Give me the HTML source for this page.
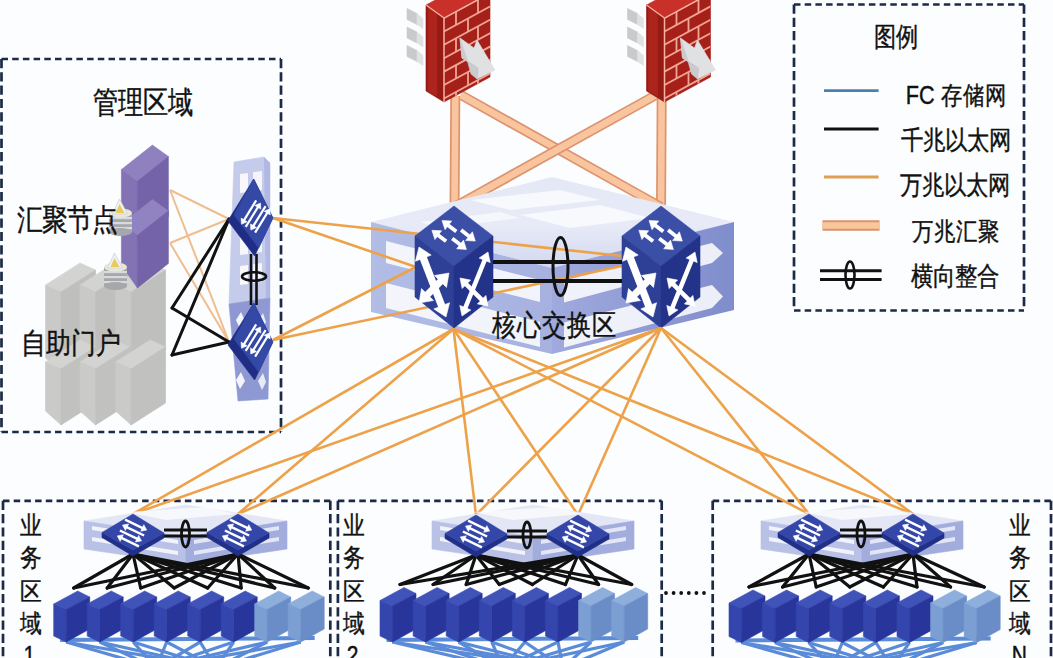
<!DOCTYPE html>
<html><head><meta charset="utf-8"><style>
html,body{margin:0;padding:0;background:#fcfdfe;}
#c{position:relative;width:1053px;height:658px;overflow:hidden;background:#fcfdfe;font-family:'Liberation Sans',sans-serif}
svg{position:absolute;left:0;top:0}
.t{position:absolute;white-space:nowrap;color:#111;line-height:1;transform-origin:0 0;-webkit-text-stroke:0.35px #111}
</style></head><body><div id="c">
<svg width="1053" height="658" viewBox="0 0 1053 658"><line x1="1.5" y1="59.0" x2="281.0" y2="59.0" stroke="#1b2a48" stroke-width="2.70" stroke-dasharray="6.5 4.2"/><line x1="1.5" y1="432.0" x2="281.0" y2="432.0" stroke="#1b2a48" stroke-width="2.70" stroke-dasharray="6.5 4.2"/><line x1="1.5" y1="59.0" x2="1.5" y2="432.0" stroke="#1b2a48" stroke-width="2.70" stroke-dasharray="9.2 4.1"/><line x1="281.0" y1="59.0" x2="281.0" y2="432.0" stroke="#1b2a48" stroke-width="2.70" stroke-dasharray="9.2 4.1"/><line x1="794.0" y1="4.5" x2="1024.0" y2="4.5" stroke="#1b2a48" stroke-width="2.70" stroke-dasharray="6.5 4.2"/><line x1="794.0" y1="310.5" x2="1024.0" y2="310.5" stroke="#1b2a48" stroke-width="2.70" stroke-dasharray="6.5 4.2"/><line x1="794.0" y1="4.5" x2="794.0" y2="310.5" stroke="#1b2a48" stroke-width="2.70" stroke-dasharray="9.2 4.1"/><line x1="1024.0" y1="4.5" x2="1024.0" y2="310.5" stroke="#1b2a48" stroke-width="2.70" stroke-dasharray="9.2 4.1"/><line x1="3.0" y1="500.8" x2="330.3" y2="500.8" stroke="#1b2a48" stroke-width="2.70" stroke-dasharray="6.5 4.2"/><line x1="3.0" y1="500.8" x2="3.0" y2="700.0" stroke="#1b2a48" stroke-width="2.70" stroke-dasharray="9.2 4.1"/><line x1="330.3" y1="500.8" x2="330.3" y2="700.0" stroke="#1b2a48" stroke-width="2.70" stroke-dasharray="9.2 4.1"/><line x1="337.9" y1="500.8" x2="661.7" y2="500.8" stroke="#1b2a48" stroke-width="2.70" stroke-dasharray="6.5 4.2"/><line x1="337.9" y1="500.8" x2="337.9" y2="700.0" stroke="#1b2a48" stroke-width="2.70" stroke-dasharray="9.2 4.1"/><line x1="661.7" y1="500.8" x2="661.7" y2="700.0" stroke="#1b2a48" stroke-width="2.70" stroke-dasharray="9.2 4.1"/><line x1="712.7" y1="500.8" x2="1051.0" y2="500.8" stroke="#1b2a48" stroke-width="2.70" stroke-dasharray="6.5 4.2"/><line x1="712.7" y1="500.8" x2="712.7" y2="700.0" stroke="#1b2a48" stroke-width="2.70" stroke-dasharray="9.2 4.1"/><line x1="1051.0" y1="500.8" x2="1051.0" y2="700.0" stroke="#1b2a48" stroke-width="2.70" stroke-dasharray="9.2 4.1"/><line x1="455.3" y1="96.0" x2="454.5" y2="210.0" stroke="#dc936e" stroke-width="10.00" /><line x1="455.3" y1="96.0" x2="454.5" y2="210.0" stroke="#f9c59e" stroke-width="6.60" /><line x1="661.7" y1="96.0" x2="661.0" y2="210.0" stroke="#dc936e" stroke-width="10.00" /><line x1="661.7" y1="96.0" x2="661.0" y2="210.0" stroke="#f9c59e" stroke-width="6.60" /><line x1="461.0" y1="95.0" x2="661.0" y2="207.0" stroke="#dc936e" stroke-width="10.00" /><line x1="461.0" y1="95.0" x2="661.0" y2="207.0" stroke="#f9c59e" stroke-width="6.60" /><line x1="656.0" y1="95.0" x2="454.0" y2="207.0" stroke="#dc936e" stroke-width="10.00" /><line x1="656.0" y1="95.0" x2="454.0" y2="207.0" stroke="#f9c59e" stroke-width="6.60" /><g transform="translate(0.0,0)"><polygon points="407.0,8.5 417.0,13.5 417.0,24.5 407.0,19.5" fill="#c9cacc"  stroke="#c9cacc" stroke-width="0.6" stroke-linejoin="round"/><polygon points="417.0,13.5 423.0,18.5 423.0,28.5 417.0,24.5" fill="#dfe1e2"  stroke="#dfe1e2" stroke-width="0.6" stroke-linejoin="round"/><polygon points="407.0,27.0 417.0,32.0 417.0,43.0 407.0,38.0" fill="#c9cacc"  stroke="#c9cacc" stroke-width="0.6" stroke-linejoin="round"/><polygon points="417.0,32.0 423.0,37.0 423.0,47.0 417.0,43.0" fill="#dfe1e2"  stroke="#dfe1e2" stroke-width="0.6" stroke-linejoin="round"/><polygon points="407.0,45.5 417.0,50.5 417.0,61.5 407.0,56.5" fill="#c9cacc"  stroke="#c9cacc" stroke-width="0.6" stroke-linejoin="round"/><polygon points="417.0,50.5 423.0,55.5 423.0,65.5 417.0,61.5" fill="#dfe1e2"  stroke="#dfe1e2" stroke-width="0.6" stroke-linejoin="round"/><polygon points="426.0,5.0 444.0,18.0 492.0,-8.0 474.0,-21.0" fill="#c9302a"  stroke="#c9302a" stroke-width="0.6" stroke-linejoin="round"/><polygon points="426.0,5.0 444.0,18.0 444.0,102.0 426.0,91.0" fill="#951a14"  stroke="#951a14" stroke-width="0.6" stroke-linejoin="round"/><polygon points="428.0,7.0 437.0,13.0 437.0,96.0 428.0,91.0" fill="#ad241d"  stroke="#ad241d" stroke-width="0.6" stroke-linejoin="round"/><clipPath id="ff0"><polygon points="444,18 490,-7 490,77 444,102"/></clipPath><polygon points="444.0,18.0 490.0,-7.0 490.0,77.0 444.0,102.0" fill="#a6201a"  stroke="#a6201a" stroke-width="0.6" stroke-linejoin="round"/><g clip-path="url(#ff0)"><line x1="440.0" y1="20.2" x2="495.0" y2="-9.7" stroke="#f3a595" stroke-width="1.80" /><line x1="440.0" y1="33.6" x2="495.0" y2="3.7" stroke="#f3a595" stroke-width="1.80" /><line x1="440.0" y1="47.0" x2="495.0" y2="17.1" stroke="#f3a595" stroke-width="1.80" /><line x1="440.0" y1="60.4" x2="495.0" y2="30.5" stroke="#f3a595" stroke-width="1.80" /><line x1="440.0" y1="73.8" x2="495.0" y2="43.9" stroke="#f3a595" stroke-width="1.80" /><line x1="440.0" y1="87.2" x2="495.0" y2="57.3" stroke="#f3a595" stroke-width="1.80" /><line x1="440.0" y1="100.6" x2="495.0" y2="70.7" stroke="#f3a595" stroke-width="1.80" /><line x1="440.0" y1="114.0" x2="495.0" y2="84.1" stroke="#f3a595" stroke-width="1.80" /><line x1="456.0" y1="11.5" x2="456.0" y2="24.9" stroke="#f3a595" stroke-width="1.80" /><line x1="478.0" y1="-0.5" x2="478.0" y2="12.9" stroke="#f3a595" stroke-width="1.80" /><line x1="468.0" y1="18.4" x2="468.0" y2="31.8" stroke="#f3a595" stroke-width="1.80" /><line x1="456.0" y1="38.3" x2="456.0" y2="51.7" stroke="#f3a595" stroke-width="1.80" /><line x1="478.0" y1="26.3" x2="478.0" y2="39.7" stroke="#f3a595" stroke-width="1.80" /><line x1="468.0" y1="45.2" x2="468.0" y2="58.6" stroke="#f3a595" stroke-width="1.80" /><line x1="456.0" y1="65.1" x2="456.0" y2="78.5" stroke="#f3a595" stroke-width="1.80" /><line x1="478.0" y1="53.1" x2="478.0" y2="66.5" stroke="#f3a595" stroke-width="1.80" /><line x1="468.0" y1="72.0" x2="468.0" y2="85.4" stroke="#f3a595" stroke-width="1.80" /><line x1="456.0" y1="91.9" x2="456.0" y2="105.3" stroke="#f3a595" stroke-width="1.80" /><line x1="478.0" y1="79.9" x2="478.0" y2="93.3" stroke="#f3a595" stroke-width="1.80" /></g><line x1="444.0" y1="18.0" x2="444.0" y2="102.0" stroke="#f7b2a3" stroke-width="1.50" /><line x1="426.0" y1="5.0" x2="444.0" y2="18.0" stroke="#f7b2a3" stroke-width="1.30" /><line x1="444.0" y1="18.0" x2="492.0" y2="-8.0" stroke="#f7b2a3" stroke-width="1.30" /><polygon points="460.0,38.0 474.0,48.0 477.0,40.0 495.0,70.0 477.0,79.0 478.0,68.0 462.0,58.0" fill="#dfe1e3"  stroke="#dfe1e3" stroke-width="0.6" stroke-linejoin="round"/><polygon points="460.0,38.0 462.0,58.0 478.0,68.0 477.0,79.0 471.0,74.0 466.0,56.0" fill="#c9cbce"  stroke="#c9cbce" stroke-width="0.6" stroke-linejoin="round"/></g><g transform="translate(220.5,0)"><polygon points="407.0,8.5 417.0,13.5 417.0,24.5 407.0,19.5" fill="#c9cacc"  stroke="#c9cacc" stroke-width="0.6" stroke-linejoin="round"/><polygon points="417.0,13.5 423.0,18.5 423.0,28.5 417.0,24.5" fill="#dfe1e2"  stroke="#dfe1e2" stroke-width="0.6" stroke-linejoin="round"/><polygon points="407.0,27.0 417.0,32.0 417.0,43.0 407.0,38.0" fill="#c9cacc"  stroke="#c9cacc" stroke-width="0.6" stroke-linejoin="round"/><polygon points="417.0,32.0 423.0,37.0 423.0,47.0 417.0,43.0" fill="#dfe1e2"  stroke="#dfe1e2" stroke-width="0.6" stroke-linejoin="round"/><polygon points="407.0,45.5 417.0,50.5 417.0,61.5 407.0,56.5" fill="#c9cacc"  stroke="#c9cacc" stroke-width="0.6" stroke-linejoin="round"/><polygon points="417.0,50.5 423.0,55.5 423.0,65.5 417.0,61.5" fill="#dfe1e2"  stroke="#dfe1e2" stroke-width="0.6" stroke-linejoin="round"/><polygon points="426.0,5.0 444.0,18.0 492.0,-8.0 474.0,-21.0" fill="#c9302a"  stroke="#c9302a" stroke-width="0.6" stroke-linejoin="round"/><polygon points="426.0,5.0 444.0,18.0 444.0,102.0 426.0,91.0" fill="#951a14"  stroke="#951a14" stroke-width="0.6" stroke-linejoin="round"/><polygon points="428.0,7.0 437.0,13.0 437.0,96.0 428.0,91.0" fill="#ad241d"  stroke="#ad241d" stroke-width="0.6" stroke-linejoin="round"/><clipPath id="ff220"><polygon points="444,18 490,-7 490,77 444,102"/></clipPath><polygon points="444.0,18.0 490.0,-7.0 490.0,77.0 444.0,102.0" fill="#a6201a"  stroke="#a6201a" stroke-width="0.6" stroke-linejoin="round"/><g clip-path="url(#ff220)"><line x1="440.0" y1="20.2" x2="495.0" y2="-9.7" stroke="#f3a595" stroke-width="1.80" /><line x1="440.0" y1="33.6" x2="495.0" y2="3.7" stroke="#f3a595" stroke-width="1.80" /><line x1="440.0" y1="47.0" x2="495.0" y2="17.1" stroke="#f3a595" stroke-width="1.80" /><line x1="440.0" y1="60.4" x2="495.0" y2="30.5" stroke="#f3a595" stroke-width="1.80" /><line x1="440.0" y1="73.8" x2="495.0" y2="43.9" stroke="#f3a595" stroke-width="1.80" /><line x1="440.0" y1="87.2" x2="495.0" y2="57.3" stroke="#f3a595" stroke-width="1.80" /><line x1="440.0" y1="100.6" x2="495.0" y2="70.7" stroke="#f3a595" stroke-width="1.80" /><line x1="440.0" y1="114.0" x2="495.0" y2="84.1" stroke="#f3a595" stroke-width="1.80" /><line x1="456.0" y1="11.5" x2="456.0" y2="24.9" stroke="#f3a595" stroke-width="1.80" /><line x1="478.0" y1="-0.5" x2="478.0" y2="12.9" stroke="#f3a595" stroke-width="1.80" /><line x1="468.0" y1="18.4" x2="468.0" y2="31.8" stroke="#f3a595" stroke-width="1.80" /><line x1="456.0" y1="38.3" x2="456.0" y2="51.7" stroke="#f3a595" stroke-width="1.80" /><line x1="478.0" y1="26.3" x2="478.0" y2="39.7" stroke="#f3a595" stroke-width="1.80" /><line x1="468.0" y1="45.2" x2="468.0" y2="58.6" stroke="#f3a595" stroke-width="1.80" /><line x1="456.0" y1="65.1" x2="456.0" y2="78.5" stroke="#f3a595" stroke-width="1.80" /><line x1="478.0" y1="53.1" x2="478.0" y2="66.5" stroke="#f3a595" stroke-width="1.80" /><line x1="468.0" y1="72.0" x2="468.0" y2="85.4" stroke="#f3a595" stroke-width="1.80" /><line x1="456.0" y1="91.9" x2="456.0" y2="105.3" stroke="#f3a595" stroke-width="1.80" /><line x1="478.0" y1="79.9" x2="478.0" y2="93.3" stroke="#f3a595" stroke-width="1.80" /></g><line x1="444.0" y1="18.0" x2="444.0" y2="102.0" stroke="#f7b2a3" stroke-width="1.50" /><line x1="426.0" y1="5.0" x2="444.0" y2="18.0" stroke="#f7b2a3" stroke-width="1.30" /><line x1="444.0" y1="18.0" x2="492.0" y2="-8.0" stroke="#f7b2a3" stroke-width="1.30" /><polygon points="460.0,38.0 474.0,48.0 477.0,40.0 495.0,70.0 477.0,79.0 478.0,68.0 462.0,58.0" fill="#dfe1e3"  stroke="#dfe1e3" stroke-width="0.6" stroke-linejoin="round"/><polygon points="460.0,38.0 462.0,58.0 478.0,68.0 477.0,79.0 471.0,74.0 466.0,56.0" fill="#c9cbce"  stroke="#c9cbce" stroke-width="0.6" stroke-linejoin="round"/></g><defs><linearGradient id="ptop" x1="0" y1="0" x2="0" y2="1"><stop offset="0" stop-color="#e4e7f5"/><stop offset="0.5" stop-color="#e8ebf7"/><stop offset="1" stop-color="#d3d8f0"/></linearGradient><linearGradient id="pleft" x1="0" y1="0" x2="1" y2="0"><stop offset="0" stop-color="#b2bde6"/><stop offset="1" stop-color="#a6b1e0"/></linearGradient><linearGradient id="pright" x1="0" y1="0" x2="1" y2="0"><stop offset="0" stop-color="#a0aade"/><stop offset="1" stop-color="#808dcc"/></linearGradient></defs><polygon points="371.0,222.0 552.0,177.0 734.0,222.0 552.0,268.0" fill="url(#ptop)" /><polygon points="371.0,222.0 552.0,268.0 552.0,354.0 371.0,312.0" fill="url(#pleft)" /><polygon points="552.0,268.0 734.0,222.0 734.0,310.0 552.0,354.0" fill="url(#pright)" /><polygon points="386.0,241.0 540.0,280.1 540.0,302.1 386.0,263.0" fill="#ffffff" opacity="0.85"/><polygon points="564.0,280.6 712.0,243.0 723.0,253.0 712.0,263.0 564.0,302.6" fill="#ffffff" opacity="0.85"/><polygon points="386.0,283.0 540.0,322.1 540.0,347.1 386.0,308.0" fill="#ffffff" opacity="0.85"/><polygon points="564.0,322.6 712.0,285.0 723.0,296.5 712.0,308.0 564.0,347.6" fill="#ffffff" opacity="0.85"/><polygon points="470.0,200.0 560.0,190.0 600.0,200.0 510.0,210.0" fill="#ffffff" opacity="0.7"/><polygon points="520.0,215.0 600.0,205.0 650.0,218.0 570.0,228.0" fill="#ffffff" opacity="0.7"/><polygon points="420.0,222.0 500.0,212.0 520.0,218.0 440.0,228.0" fill="#ffffff" opacity="0.6"/><line x1="273.0" y1="218.0" x2="416.0" y2="267.0" stroke="#eda24a" stroke-width="2.60" /><line x1="273.0" y1="218.0" x2="622.0" y2="256.0" stroke="#eda24a" stroke-width="2.60" /><line x1="273.0" y1="340.0" x2="416.0" y2="267.0" stroke="#eda24a" stroke-width="2.60" /><line x1="273.0" y1="340.0" x2="622.0" y2="266.0" stroke="#eda24a" stroke-width="2.60" /><polygon points="454.0,206.0 493.0,236.0 454.0,266.0 415.0,236.0" fill="#3b4fa7"  stroke="#3b4fa7" stroke-width="0.6" stroke-linejoin="round"/><polygon points="415.0,236.0 454.0,266.0 454.0,328.0 415.0,297.0" fill="#2e4096"  stroke="#2e4096" stroke-width="0.6" stroke-linejoin="round"/><polygon points="454.0,266.0 493.0,236.0 493.0,297.0 454.0,328.0" fill="#24338a"  stroke="#24338a" stroke-width="0.6" stroke-linejoin="round"/><line x1="436.9" y1="234.2" x2="446.1" y2="241.3" stroke="#fff" stroke-width="3.80" /><polygon points="431.9,230.3 434.9,239.6 441.6,230.8" fill="#fff"  stroke="#fff" stroke-width="0.6" stroke-linejoin="round"/><line x1="447.1" y1="224.4" x2="456.3" y2="231.4" stroke="#fff" stroke-width="3.80" /><polygon points="442.0,220.5 445.0,229.7 451.7,221.0" fill="#fff"  stroke="#fff" stroke-width="0.6" stroke-linejoin="round"/><line x1="452.2" y1="238.4" x2="461.4" y2="245.5" stroke="#fff" stroke-width="3.80" /><polygon points="466.4,249.4 456.7,248.8 463.5,240.1" fill="#fff"  stroke="#fff" stroke-width="0.6" stroke-linejoin="round"/><line x1="461.1" y1="230.1" x2="470.3" y2="237.2" stroke="#fff" stroke-width="3.80" /><polygon points="475.3,241.1 465.6,240.5 472.4,231.8" fill="#fff"  stroke="#fff" stroke-width="0.6" stroke-linejoin="round"/><line x1="422.5" y1="256.0" x2="442.5" y2="308.0" stroke="#fff" stroke-width="7.50" /><polygon points="446.0,317.0 433.8,308.9 449.6,302.7" fill="#fff"  stroke="#fff" stroke-width="0.6" stroke-linejoin="round"/><polygon points="419.0,247.0 415.4,261.3 431.2,255.1" fill="#fff"  stroke="#fff" stroke-width="0.6" stroke-linejoin="round"/><line x1="442.2" y1="279.8" x2="425.8" y2="296.2" stroke="#fff" stroke-width="7.00" /><polygon points="419.0,303.0 421.5,288.5 433.5,300.5" fill="#fff"  stroke="#fff" stroke-width="0.6" stroke-linejoin="round"/><polygon points="449.0,273.0 434.5,275.5 446.5,287.5" fill="#fff"  stroke="#fff" stroke-width="0.6" stroke-linejoin="round"/><line x1="465.1" y1="283.1" x2="482.9" y2="300.9" stroke="#fff" stroke-width="4.50" /><polygon points="488.0,306.0 477.4,303.9 485.9,295.4" fill="#fff"  stroke="#fff" stroke-width="0.6" stroke-linejoin="round"/><polygon points="460.0,278.0 462.1,288.6 470.6,280.1" fill="#fff"  stroke="#fff" stroke-width="0.6" stroke-linejoin="round"/><line x1="485.3" y1="258.7" x2="464.7" y2="309.3" stroke="#fff" stroke-width="4.50" /><polygon points="462.0,316.0 459.8,305.4 470.9,309.9" fill="#fff"  stroke="#fff" stroke-width="0.6" stroke-linejoin="round"/><polygon points="488.0,252.0 479.1,258.1 490.2,262.6" fill="#fff"  stroke="#fff" stroke-width="0.6" stroke-linejoin="round"/><polygon points="661.0,206.0 700.0,236.0 661.0,266.0 622.0,236.0" fill="#3b4fa7"  stroke="#3b4fa7" stroke-width="0.6" stroke-linejoin="round"/><polygon points="622.0,236.0 661.0,266.0 661.0,328.0 622.0,297.0" fill="#2e4096"  stroke="#2e4096" stroke-width="0.6" stroke-linejoin="round"/><polygon points="661.0,266.0 700.0,236.0 700.0,297.0 661.0,328.0" fill="#24338a"  stroke="#24338a" stroke-width="0.6" stroke-linejoin="round"/><line x1="643.9" y1="234.2" x2="653.1" y2="241.3" stroke="#fff" stroke-width="3.80" /><polygon points="638.9,230.3 641.9,239.6 648.6,230.8" fill="#fff"  stroke="#fff" stroke-width="0.6" stroke-linejoin="round"/><line x1="654.1" y1="224.4" x2="663.3" y2="231.4" stroke="#fff" stroke-width="3.80" /><polygon points="649.0,220.5 652.0,229.7 658.7,221.0" fill="#fff"  stroke="#fff" stroke-width="0.6" stroke-linejoin="round"/><line x1="659.2" y1="238.4" x2="668.4" y2="245.5" stroke="#fff" stroke-width="3.80" /><polygon points="673.4,249.4 663.7,248.8 670.5,240.1" fill="#fff"  stroke="#fff" stroke-width="0.6" stroke-linejoin="round"/><line x1="668.1" y1="230.1" x2="677.3" y2="237.2" stroke="#fff" stroke-width="3.80" /><polygon points="682.3,241.1 672.6,240.5 679.4,231.8" fill="#fff"  stroke="#fff" stroke-width="0.6" stroke-linejoin="round"/><line x1="629.5" y1="256.0" x2="649.5" y2="308.0" stroke="#fff" stroke-width="7.50" /><polygon points="653.0,317.0 640.8,308.9 656.6,302.7" fill="#fff"  stroke="#fff" stroke-width="0.6" stroke-linejoin="round"/><polygon points="626.0,247.0 622.4,261.3 638.2,255.1" fill="#fff"  stroke="#fff" stroke-width="0.6" stroke-linejoin="round"/><line x1="649.2" y1="279.8" x2="632.8" y2="296.2" stroke="#fff" stroke-width="7.00" /><polygon points="626.0,303.0 628.5,288.5 640.5,300.5" fill="#fff"  stroke="#fff" stroke-width="0.6" stroke-linejoin="round"/><polygon points="656.0,273.0 641.5,275.5 653.5,287.5" fill="#fff"  stroke="#fff" stroke-width="0.6" stroke-linejoin="round"/><line x1="672.1" y1="283.1" x2="689.9" y2="300.9" stroke="#fff" stroke-width="4.50" /><polygon points="695.0,306.0 684.4,303.9 692.9,295.4" fill="#fff"  stroke="#fff" stroke-width="0.6" stroke-linejoin="round"/><polygon points="667.0,278.0 669.1,288.6 677.6,280.1" fill="#fff"  stroke="#fff" stroke-width="0.6" stroke-linejoin="round"/><line x1="692.3" y1="258.7" x2="671.7" y2="309.3" stroke="#fff" stroke-width="4.50" /><polygon points="669.0,316.0 666.8,305.4 677.9,309.9" fill="#fff"  stroke="#fff" stroke-width="0.6" stroke-linejoin="round"/><polygon points="695.0,252.0 686.1,258.1 697.2,262.6" fill="#fff"  stroke="#fff" stroke-width="0.6" stroke-linejoin="round"/><line x1="493.0" y1="262.0" x2="622.0" y2="262.0" stroke="#111" stroke-width="4.20" /><line x1="493.0" y1="281.0" x2="622.0" y2="281.0" stroke="#111" stroke-width="4.20" /><ellipse cx="560.5" cy="266.5" rx="7.5" ry="29" fill="none" stroke="#111" stroke-width="3"/><line x1="453.5" y1="329.0" x2="133.0" y2="514.0" stroke="#eda24a" stroke-width="2.60" /><line x1="453.5" y1="329.0" x2="238.0" y2="514.0" stroke="#eda24a" stroke-width="2.60" /><line x1="453.5" y1="329.0" x2="476.0" y2="515.0" stroke="#eda24a" stroke-width="2.60" /><line x1="453.5" y1="329.0" x2="578.0" y2="515.0" stroke="#eda24a" stroke-width="2.60" /><line x1="453.5" y1="329.0" x2="809.0" y2="514.0" stroke="#eda24a" stroke-width="2.60" /><line x1="453.5" y1="329.0" x2="913.0" y2="514.0" stroke="#eda24a" stroke-width="2.60" /><line x1="661.0" y1="328.0" x2="133.0" y2="514.0" stroke="#eda24a" stroke-width="2.60" /><line x1="661.0" y1="328.0" x2="238.0" y2="514.0" stroke="#eda24a" stroke-width="2.60" /><line x1="661.0" y1="328.0" x2="476.0" y2="515.0" stroke="#eda24a" stroke-width="2.60" /><line x1="661.0" y1="328.0" x2="578.0" y2="515.0" stroke="#eda24a" stroke-width="2.60" /><line x1="661.0" y1="328.0" x2="809.0" y2="514.0" stroke="#eda24a" stroke-width="2.60" /><line x1="661.0" y1="328.0" x2="913.0" y2="514.0" stroke="#eda24a" stroke-width="2.60" /><polygon points="45.5,285.0 80.0,263.0 95.5,270.0 61.0,292.0" fill="#d3d3d1"  stroke="#d3d3d1" stroke-width="0.6" stroke-linejoin="round"/><polygon points="45.5,285.0 61.0,292.0 61.0,372.0 45.5,358.0" fill="#c9c9c7"  stroke="#c9c9c7" stroke-width="0.6" stroke-linejoin="round"/><polygon points="61.0,292.0 95.5,270.0 95.5,350.0 61.0,372.0" fill="#bfbfbd"  stroke="#bfbfbd" stroke-width="0.6" stroke-linejoin="round"/><polygon points="80.0,285.0 114.5,263.0 130.0,270.0 95.5,292.0" fill="#d3d3d1"  stroke="#d3d3d1" stroke-width="0.6" stroke-linejoin="round"/><polygon points="80.0,285.0 95.5,292.0 95.5,372.0 80.0,358.0" fill="#c9c9c7"  stroke="#c9c9c7" stroke-width="0.6" stroke-linejoin="round"/><polygon points="95.5,292.0 130.0,270.0 130.0,350.0 95.5,372.0" fill="#bfbfbd"  stroke="#bfbfbd" stroke-width="0.6" stroke-linejoin="round"/><polygon points="115.6,285.0 150.1,263.0 165.6,270.0 131.1,292.0" fill="#d3d3d1"  stroke="#d3d3d1" stroke-width="0.6" stroke-linejoin="round"/><polygon points="115.6,285.0 131.1,292.0 131.1,372.0 115.6,358.0" fill="#c9c9c7"  stroke="#c9c9c7" stroke-width="0.6" stroke-linejoin="round"/><polygon points="131.1,292.0 165.6,270.0 165.6,350.0 131.1,372.0" fill="#bfbfbd"  stroke="#bfbfbd" stroke-width="0.6" stroke-linejoin="round"/><polygon points="121.4,169.6 152.4,145.1 168.4,156.5 137.4,181.0" fill="#8f81bf"  stroke="#8f81bf" stroke-width="0.6" stroke-linejoin="round"/><polygon points="121.4,169.6 137.4,181.0 137.4,241.0 121.4,218.2" fill="#8373b4"  stroke="#8373b4" stroke-width="0.6" stroke-linejoin="round"/><polygon points="137.4,181.0 168.4,156.5 168.4,216.5 137.4,241.0" fill="#7463a9"  stroke="#7463a9" stroke-width="0.6" stroke-linejoin="round"/><polygon points="121.4,224.0 152.4,199.5 168.4,210.9 137.4,235.4" fill="#9183c1"  stroke="#9183c1" stroke-width="0.6" stroke-linejoin="round"/><polygon points="121.4,224.0 137.4,235.4 137.4,287.9 121.4,265.1" fill="#8373b4"  stroke="#8373b4" stroke-width="0.6" stroke-linejoin="round"/><polygon points="137.4,235.4 168.4,210.9 168.4,263.4 137.4,287.9" fill="#7463a9"  stroke="#7463a9" stroke-width="0.6" stroke-linejoin="round"/><polygon points="45.5,362.0 80.0,340.0 95.5,347.0 61.0,369.0" fill="#d3d3d1"  stroke="#d3d3d1" stroke-width="0.6" stroke-linejoin="round"/><polygon points="45.5,362.0 61.0,369.0 61.0,425.0 45.5,411.0" fill="#cacac8"  stroke="#cacac8" stroke-width="0.6" stroke-linejoin="round"/><polygon points="61.0,369.0 95.5,347.0 95.5,403.0 61.0,425.0" fill="#c1c1bf"  stroke="#c1c1bf" stroke-width="0.6" stroke-linejoin="round"/><polygon points="80.0,362.0 114.5,340.0 130.0,347.0 95.5,369.0" fill="#d3d3d1"  stroke="#d3d3d1" stroke-width="0.6" stroke-linejoin="round"/><polygon points="80.0,362.0 95.5,369.0 95.5,425.0 80.0,411.0" fill="#cacac8"  stroke="#cacac8" stroke-width="0.6" stroke-linejoin="round"/><polygon points="95.5,369.0 130.0,347.0 130.0,403.0 95.5,425.0" fill="#c1c1bf"  stroke="#c1c1bf" stroke-width="0.6" stroke-linejoin="round"/><polygon points="115.6,362.0 150.1,340.0 165.6,347.0 131.1,369.0" fill="#d3d3d1"  stroke="#d3d3d1" stroke-width="0.6" stroke-linejoin="round"/><polygon points="115.6,362.0 131.1,369.0 131.1,425.0 115.6,411.0" fill="#cacac8"  stroke="#cacac8" stroke-width="0.6" stroke-linejoin="round"/><polygon points="131.1,369.0 165.6,347.0 165.6,403.0 131.1,425.0" fill="#c1c1bf"  stroke="#c1c1bf" stroke-width="0.6" stroke-linejoin="round"/><g><rect x="104.0" y="267.0" width="23" height="19" fill="#a6a7aa"/><rect x="104.0" y="271.0" width="23" height="2.2" fill="#d9dadc"/><rect x="104.0" y="276.0" width="23" height="2.2" fill="#d9dadc"/><rect x="104.0" y="281.0" width="23" height="2.2" fill="#d9dadc"/><ellipse cx="115.5" cy="286.0" rx="11.5" ry="4" fill="#a6a7aa"/><ellipse cx="115.5" cy="267.0" rx="11.5" ry="4.5" fill="#e9e7da"/><path d="M107.5,268.0 L114.5,253.0 L122.5,268.0 Z" fill="#eef2f4" stroke="#c9d3d8" stroke-width="0.8"/><path d="M110.5,267.0 L114.5,258.0 L119.5,267.0 Z" fill="#ebc95c"/></g><g><rect x="109.0" y="213.0" width="23" height="19" fill="#a6a7aa"/><rect x="109.0" y="217.0" width="23" height="2.2" fill="#d9dadc"/><rect x="109.0" y="222.0" width="23" height="2.2" fill="#d9dadc"/><rect x="109.0" y="227.0" width="23" height="2.2" fill="#d9dadc"/><ellipse cx="120.5" cy="232.0" rx="11.5" ry="4" fill="#a6a7aa"/><ellipse cx="120.5" cy="213.0" rx="11.5" ry="4.5" fill="#e9e7da"/><path d="M112.5,214.0 L119.5,199.0 L127.5,214.0 Z" fill="#eef2f4" stroke="#c9d3d8" stroke-width="0.8"/><path d="M115.5,213.0 L119.5,204.0 L124.5,213.0 Z" fill="#ebc95c"/></g><line x1="170.0" y1="190.0" x2="229.0" y2="219.0" stroke="#f0bd8e" stroke-width="2.00" /><line x1="170.0" y1="190.0" x2="229.0" y2="342.0" stroke="#f0bd8e" stroke-width="2.00" /><line x1="170.0" y1="243.0" x2="229.0" y2="219.0" stroke="#f0bd8e" stroke-width="2.00" /><line x1="170.0" y1="243.0" x2="229.0" y2="342.0" stroke="#f0bd8e" stroke-width="2.00" /><line x1="172.0" y1="308.0" x2="229.0" y2="219.0" stroke="#111" stroke-width="3.00" stroke-linecap="round"/><line x1="172.0" y1="355.0" x2="229.0" y2="219.0" stroke="#111" stroke-width="3.00" stroke-linecap="round"/><line x1="172.0" y1="308.0" x2="229.0" y2="342.0" stroke="#111" stroke-width="3.00" stroke-linecap="round"/><line x1="172.0" y1="355.0" x2="229.0" y2="342.0" stroke="#111" stroke-width="3.00" stroke-linecap="round"/><polygon points="234.0,162.0 264.0,157.0 270.0,163.0 270.0,298.0 229.0,304.0" fill="#c5cbeb"  stroke="#c5cbeb" stroke-width="0.6" stroke-linejoin="round"/><polygon points="229.0,304.0 270.0,298.0 268.0,399.0 238.0,401.0" fill="#8e99d4"  stroke="#8e99d4" stroke-width="0.6" stroke-linejoin="round"/><polygon points="240.0,174.0 248.0,173.0 248.0,192.0 240.0,193.0" fill="#ffffff" opacity="0.85"/><polygon points="253.0,172.0 262.0,171.0 262.0,190.0 253.0,191.0" fill="#ffffff" opacity="0.8"/><polygon points="240.0,204.0 248.0,203.0 248.0,222.0 240.0,223.0" fill="#ffffff" opacity="0.85"/><polygon points="253.0,202.0 262.0,201.0 262.0,220.0 253.0,221.0" fill="#ffffff" opacity="0.8"/><polygon points="240.0,236.0 248.0,235.0 248.0,254.0 240.0,255.0" fill="#ffffff" opacity="0.85"/><polygon points="253.0,234.0 262.0,233.0 262.0,252.0 253.0,253.0" fill="#ffffff" opacity="0.8"/><polygon points="240.0,266.0 248.0,265.0 248.0,284.0 240.0,285.0" fill="#ffffff" opacity="0.85"/><polygon points="253.0,264.0 262.0,263.0 262.0,282.0 253.0,283.0" fill="#ffffff" opacity="0.8"/><polygon points="236.0,320.0 241.0,312.0 245.0,321.0 240.0,329.0" fill="#ffffff" opacity="0.9"/><polygon points="258.0,321.0 263.0,313.0 266.0,322.0 262.0,330.0" fill="#ffffff" opacity="0.8"/><polygon points="236.0,348.0 241.0,340.0 245.0,349.0 240.0,357.0" fill="#ffffff" opacity="0.9"/><polygon points="258.0,349.0 263.0,341.0 266.0,350.0 262.0,358.0" fill="#ffffff" opacity="0.8"/><polygon points="236.0,380.0 241.0,372.0 245.0,381.0 240.0,389.0" fill="#ffffff" opacity="0.9"/><polygon points="258.0,381.0 263.0,373.0 266.0,382.0 262.0,390.0" fill="#ffffff" opacity="0.8"/><polygon points="264.0,157.0 270.0,163.0 270.0,298.0 266.0,298.0" fill="#aab3e1" opacity="0.8"/><line x1="251.0" y1="254.0" x2="251.0" y2="305.0" stroke="#111" stroke-width="2.60" /><line x1="256.5" y1="254.0" x2="256.5" y2="305.0" stroke="#111" stroke-width="2.60" /><ellipse cx="254" cy="276.5" rx="12" ry="4.2" fill="none" stroke="#111" stroke-width="2.6"/><polygon points="253.7,179.0 272.9,218.0 255.6,254.0 254.6,256.0 228.0,221.0 229.0,219.0" fill="#1f2d84"  stroke="#1f2d84" stroke-width="0.6" stroke-linejoin="round"/><polygon points="253.7,179.0 272.9,218.0 258.6,248.0 234.0,215.0" fill="#3448a6"  stroke="#3448a6" stroke-width="0.6" stroke-linejoin="round"/><line x1="267.7" y1="212.2" x2="255.1" y2="232.6" stroke="#fff" stroke-width="2.20" /><polygon points="269.8,208.8 264.2,211.2 270.2,214.9" fill="#fff"  stroke="#fff" stroke-width="0.6" stroke-linejoin="round"/><line x1="265.6" y1="206.2" x2="252.9" y2="226.6" stroke="#fff" stroke-width="2.20" /><polygon points="250.8,230.0 250.5,223.9 256.5,227.6" fill="#fff"  stroke="#fff" stroke-width="0.6" stroke-linejoin="round"/><line x1="258.4" y1="206.4" x2="245.7" y2="226.8" stroke="#fff" stroke-width="2.20" /><polygon points="260.5,203.0 254.8,205.4 260.8,209.1" fill="#fff"  stroke="#fff" stroke-width="0.6" stroke-linejoin="round"/><line x1="256.2" y1="200.4" x2="243.6" y2="220.8" stroke="#fff" stroke-width="2.20" /><polygon points="241.5,224.2 241.1,218.1 247.1,221.8" fill="#fff"  stroke="#fff" stroke-width="0.6" stroke-linejoin="round"/><polygon points="253.7,303.0 272.9,342.0 255.6,378.0 254.6,380.0 228.0,345.0 229.0,343.0" fill="#1f2d84"  stroke="#1f2d84" stroke-width="0.6" stroke-linejoin="round"/><polygon points="253.7,303.0 272.9,342.0 258.6,372.0 234.0,339.0" fill="#3448a6"  stroke="#3448a6" stroke-width="0.6" stroke-linejoin="round"/><line x1="267.7" y1="336.2" x2="255.1" y2="356.6" stroke="#fff" stroke-width="2.20" /><polygon points="269.8,332.8 264.2,335.2 270.2,338.9" fill="#fff"  stroke="#fff" stroke-width="0.6" stroke-linejoin="round"/><line x1="265.6" y1="330.2" x2="252.9" y2="350.6" stroke="#fff" stroke-width="2.20" /><polygon points="250.8,354.0 250.5,347.9 256.5,351.6" fill="#fff"  stroke="#fff" stroke-width="0.6" stroke-linejoin="round"/><line x1="258.4" y1="330.4" x2="245.7" y2="350.8" stroke="#fff" stroke-width="2.20" /><polygon points="260.5,327.0 254.8,329.4 260.8,333.1" fill="#fff"  stroke="#fff" stroke-width="0.6" stroke-linejoin="round"/><line x1="256.2" y1="324.4" x2="243.6" y2="344.8" stroke="#fff" stroke-width="2.20" /><polygon points="241.5,348.2 241.1,342.1 247.1,345.8" fill="#fff"  stroke="#fff" stroke-width="0.6" stroke-linejoin="round"/><line x1="66.2" y1="642.0" x2="156.0" y2="668.0" stroke="#5a8bd8" stroke-width="3.20" /><line x1="66.2" y1="642.0" x2="216.0" y2="668.0" stroke="#5a8bd8" stroke-width="3.20" /><line x1="99.7" y1="642.0" x2="156.0" y2="668.0" stroke="#5a8bd8" stroke-width="3.20" /><line x1="99.7" y1="642.0" x2="216.0" y2="668.0" stroke="#5a8bd8" stroke-width="3.20" /><line x1="133.2" y1="642.0" x2="156.0" y2="668.0" stroke="#5a8bd8" stroke-width="3.20" /><line x1="133.2" y1="642.0" x2="216.0" y2="668.0" stroke="#5a8bd8" stroke-width="3.20" /><line x1="166.7" y1="642.0" x2="156.0" y2="668.0" stroke="#5a8bd8" stroke-width="3.20" /><line x1="166.7" y1="642.0" x2="216.0" y2="668.0" stroke="#5a8bd8" stroke-width="3.20" /><line x1="200.2" y1="642.0" x2="156.0" y2="668.0" stroke="#5a8bd8" stroke-width="3.20" /><line x1="200.2" y1="642.0" x2="216.0" y2="668.0" stroke="#5a8bd8" stroke-width="3.20" /><line x1="233.7" y1="642.0" x2="156.0" y2="668.0" stroke="#5a8bd8" stroke-width="3.20" /><line x1="233.7" y1="642.0" x2="216.0" y2="668.0" stroke="#5a8bd8" stroke-width="3.20" /><line x1="267.2" y1="642.0" x2="156.0" y2="668.0" stroke="#5a8bd8" stroke-width="3.20" /><line x1="267.2" y1="642.0" x2="216.0" y2="668.0" stroke="#5a8bd8" stroke-width="3.20" /><line x1="300.7" y1="642.0" x2="156.0" y2="668.0" stroke="#5a8bd8" stroke-width="3.20" /><line x1="300.7" y1="642.0" x2="216.0" y2="668.0" stroke="#5a8bd8" stroke-width="3.20" /><line x1="60.2" y1="640.0" x2="314.7" y2="638.0" stroke="#5a8bd8" stroke-width="4.00" /><polygon points="84.0,521.0 186.0,505.0 287.0,521.0 186.0,537.0" fill="#e3e6f4"  stroke="#e3e6f4" stroke-width="0.6" stroke-linejoin="round"/><polygon points="126.0,512.0 206.0,507.0 236.0,514.0 166.0,520.0" fill="#ffffff" opacity="0.7"/><polygon points="84.0,521.0 186.0,537.0 186.0,564.0 84.0,549.0" fill="#b9c1e6"  stroke="#b9c1e6" stroke-width="0.6" stroke-linejoin="round"/><polygon points="186.0,537.0 287.0,521.0 287.0,549.0 186.0,564.0" fill="#a2acdd"  stroke="#a2acdd" stroke-width="0.6" stroke-linejoin="round"/><polygon points="92.0,526.0 178.0,540.0 178.0,544.0 92.0,530.0" fill="#ffffff" opacity="0.8"/><polygon points="194.0,540.0 279.0,526.0 279.0,530.0 194.0,544.0" fill="#ffffff" opacity="0.7"/><polygon points="92.0,537.0 178.0,551.0 178.0,555.0 92.0,541.0" fill="#ffffff" opacity="0.8"/><polygon points="194.0,551.0 279.0,537.0 279.0,541.0 194.0,555.0" fill="#ffffff" opacity="0.7"/><line x1="133.0" y1="554.0" x2="73.7" y2="588.0" stroke="#111" stroke-width="3.20" stroke-linecap="round"/><line x1="133.0" y1="554.0" x2="107.2" y2="588.0" stroke="#111" stroke-width="3.20" stroke-linecap="round"/><line x1="133.0" y1="554.0" x2="140.7" y2="588.0" stroke="#111" stroke-width="3.20" stroke-linecap="round"/><line x1="133.0" y1="554.0" x2="174.2" y2="588.0" stroke="#111" stroke-width="3.20" stroke-linecap="round"/><line x1="133.0" y1="554.0" x2="207.7" y2="588.0" stroke="#111" stroke-width="3.20" stroke-linecap="round"/><line x1="133.0" y1="554.0" x2="241.2" y2="588.0" stroke="#111" stroke-width="3.20" stroke-linecap="round"/><line x1="133.0" y1="554.0" x2="274.7" y2="588.0" stroke="#111" stroke-width="3.20" stroke-linecap="round"/><line x1="133.0" y1="554.0" x2="308.2" y2="588.0" stroke="#111" stroke-width="3.20" stroke-linecap="round"/><line x1="238.0" y1="554.0" x2="73.7" y2="588.0" stroke="#111" stroke-width="3.20" stroke-linecap="round"/><line x1="238.0" y1="554.0" x2="107.2" y2="588.0" stroke="#111" stroke-width="3.20" stroke-linecap="round"/><line x1="238.0" y1="554.0" x2="140.7" y2="588.0" stroke="#111" stroke-width="3.20" stroke-linecap="round"/><line x1="238.0" y1="554.0" x2="174.2" y2="588.0" stroke="#111" stroke-width="3.20" stroke-linecap="round"/><line x1="238.0" y1="554.0" x2="207.7" y2="588.0" stroke="#111" stroke-width="3.20" stroke-linecap="round"/><line x1="238.0" y1="554.0" x2="241.2" y2="588.0" stroke="#111" stroke-width="3.20" stroke-linecap="round"/><line x1="238.0" y1="554.0" x2="274.7" y2="588.0" stroke="#111" stroke-width="3.20" stroke-linecap="round"/><line x1="238.0" y1="554.0" x2="308.2" y2="588.0" stroke="#111" stroke-width="3.20" stroke-linecap="round"/><line x1="164.0" y1="530.0" x2="207.0" y2="530.0" stroke="#111" stroke-width="3.00" /><line x1="164.0" y1="536.0" x2="207.0" y2="536.0" stroke="#111" stroke-width="3.00" /><ellipse cx="185.5" cy="534.0" rx="4" ry="13" fill="none" stroke="#111" stroke-width="2.8"/><polygon points="102.0,532.5 133.0,550.0 164.0,533.0 164.0,538.0 133.0,556.0 102.0,537.5" fill="#202f88"  stroke="#202f88" stroke-width="0.6" stroke-linejoin="round"/><polygon points="133.0,514.0 164.0,533.0 133.0,550.0 102.0,532.5" fill="#3447a8"  stroke="#3447a8" stroke-width="0.6" stroke-linejoin="round"/><line x1="125.1" y1="519.7" x2="143.1" y2="528.4" stroke="#fff" stroke-width="2.40" /><polygon points="146.7,530.1 140.7,531.2 143.8,524.7" fill="#fff"  stroke="#fff" stroke-width="0.6" stroke-linejoin="round"/><line x1="126.1" y1="526.8" x2="144.1" y2="535.5" stroke="#fff" stroke-width="2.40" /><polygon points="122.5,525.1 125.4,530.5 128.6,524.0" fill="#fff"  stroke="#fff" stroke-width="0.6" stroke-linejoin="round"/><line x1="119.9" y1="530.5" x2="137.9" y2="539.2" stroke="#fff" stroke-width="2.40" /><polygon points="141.5,540.9 135.4,542.0 138.6,535.5" fill="#fff"  stroke="#fff" stroke-width="0.6" stroke-linejoin="round"/><line x1="120.9" y1="537.6" x2="138.9" y2="546.3" stroke="#fff" stroke-width="2.40" /><polygon points="117.3,535.9 120.2,541.3 123.3,534.8" fill="#fff"  stroke="#fff" stroke-width="0.6" stroke-linejoin="round"/><polygon points="207.0,532.5 238.0,550.0 269.0,533.0 269.0,538.0 238.0,556.0 207.0,537.5" fill="#202f88"  stroke="#202f88" stroke-width="0.6" stroke-linejoin="round"/><polygon points="238.0,514.0 269.0,533.0 238.0,550.0 207.0,532.5" fill="#3447a8"  stroke="#3447a8" stroke-width="0.6" stroke-linejoin="round"/><line x1="230.1" y1="519.7" x2="248.1" y2="528.4" stroke="#fff" stroke-width="2.40" /><polygon points="251.7,530.1 245.7,531.2 248.8,524.7" fill="#fff"  stroke="#fff" stroke-width="0.6" stroke-linejoin="round"/><line x1="231.1" y1="526.8" x2="249.1" y2="535.5" stroke="#fff" stroke-width="2.40" /><polygon points="227.5,525.1 230.4,530.5 233.6,524.0" fill="#fff"  stroke="#fff" stroke-width="0.6" stroke-linejoin="round"/><line x1="224.9" y1="530.5" x2="242.9" y2="539.2" stroke="#fff" stroke-width="2.40" /><polygon points="246.5,540.9 240.4,542.0 243.6,535.5" fill="#fff"  stroke="#fff" stroke-width="0.6" stroke-linejoin="round"/><line x1="225.9" y1="537.6" x2="243.9" y2="546.3" stroke="#fff" stroke-width="2.40" /><polygon points="222.3,535.9 225.2,541.3 228.3,534.8" fill="#fff"  stroke="#fff" stroke-width="0.6" stroke-linejoin="round"/><polygon points="53.7,604.0 77.7,591.0 89.7,597.0 66.2,609.5" fill="#4053b8"  stroke="#4053b8" stroke-width="0.6" stroke-linejoin="round"/><polygon points="53.7,604.0 66.2,609.5 66.2,642.0 53.7,636.0" fill="#3446ad"  stroke="#3446ad" stroke-width="0.6" stroke-linejoin="round"/><polygon points="66.2,609.5 89.7,597.0 89.7,629.0 66.2,642.0" fill="#28359b"  stroke="#28359b" stroke-width="0.6" stroke-linejoin="round"/><polygon points="87.2,604.0 111.2,591.0 123.2,597.0 99.7,609.5" fill="#4053b8"  stroke="#4053b8" stroke-width="0.6" stroke-linejoin="round"/><polygon points="87.2,604.0 99.7,609.5 99.7,642.0 87.2,636.0" fill="#3446ad"  stroke="#3446ad" stroke-width="0.6" stroke-linejoin="round"/><polygon points="99.7,609.5 123.2,597.0 123.2,629.0 99.7,642.0" fill="#28359b"  stroke="#28359b" stroke-width="0.6" stroke-linejoin="round"/><polygon points="120.7,604.0 144.7,591.0 156.7,597.0 133.2,609.5" fill="#4053b8"  stroke="#4053b8" stroke-width="0.6" stroke-linejoin="round"/><polygon points="120.7,604.0 133.2,609.5 133.2,642.0 120.7,636.0" fill="#3446ad"  stroke="#3446ad" stroke-width="0.6" stroke-linejoin="round"/><polygon points="133.2,609.5 156.7,597.0 156.7,629.0 133.2,642.0" fill="#28359b"  stroke="#28359b" stroke-width="0.6" stroke-linejoin="round"/><polygon points="154.2,604.0 178.2,591.0 190.2,597.0 166.7,609.5" fill="#4053b8"  stroke="#4053b8" stroke-width="0.6" stroke-linejoin="round"/><polygon points="154.2,604.0 166.7,609.5 166.7,642.0 154.2,636.0" fill="#3446ad"  stroke="#3446ad" stroke-width="0.6" stroke-linejoin="round"/><polygon points="166.7,609.5 190.2,597.0 190.2,629.0 166.7,642.0" fill="#28359b"  stroke="#28359b" stroke-width="0.6" stroke-linejoin="round"/><polygon points="187.7,604.0 211.7,591.0 223.7,597.0 200.2,609.5" fill="#4053b8"  stroke="#4053b8" stroke-width="0.6" stroke-linejoin="round"/><polygon points="187.7,604.0 200.2,609.5 200.2,642.0 187.7,636.0" fill="#3446ad"  stroke="#3446ad" stroke-width="0.6" stroke-linejoin="round"/><polygon points="200.2,609.5 223.7,597.0 223.7,629.0 200.2,642.0" fill="#28359b"  stroke="#28359b" stroke-width="0.6" stroke-linejoin="round"/><polygon points="221.2,604.0 245.2,591.0 257.2,597.0 233.7,609.5" fill="#4053b8"  stroke="#4053b8" stroke-width="0.6" stroke-linejoin="round"/><polygon points="221.2,604.0 233.7,609.5 233.7,642.0 221.2,636.0" fill="#3446ad"  stroke="#3446ad" stroke-width="0.6" stroke-linejoin="round"/><polygon points="233.7,609.5 257.2,597.0 257.2,629.0 233.7,642.0" fill="#28359b"  stroke="#28359b" stroke-width="0.6" stroke-linejoin="round"/><polygon points="254.7,604.0 278.7,591.0 290.7,597.0 267.2,609.5" fill="#8eaedc"  stroke="#8eaedc" stroke-width="0.6" stroke-linejoin="round"/><polygon points="254.7,604.0 267.2,609.5 267.2,642.0 254.7,636.0" fill="#7c9fd3"  stroke="#7c9fd3" stroke-width="0.6" stroke-linejoin="round"/><polygon points="267.2,609.5 290.7,597.0 290.7,629.0 267.2,642.0" fill="#6a8dc8"  stroke="#6a8dc8" stroke-width="0.6" stroke-linejoin="round"/><polygon points="288.2,604.0 312.2,591.0 324.2,597.0 300.7,609.5" fill="#8eaedc"  stroke="#8eaedc" stroke-width="0.6" stroke-linejoin="round"/><polygon points="288.2,604.0 300.7,609.5 300.7,642.0 288.2,636.0" fill="#7c9fd3"  stroke="#7c9fd3" stroke-width="0.6" stroke-linejoin="round"/><polygon points="300.7,609.5 324.2,597.0 324.2,629.0 300.7,642.0" fill="#6a8dc8"  stroke="#6a8dc8" stroke-width="0.6" stroke-linejoin="round"/><line x1="392.5" y1="642.0" x2="503.0" y2="668.0" stroke="#5a8bd8" stroke-width="3.20" /><line x1="392.5" y1="642.0" x2="563.0" y2="668.0" stroke="#5a8bd8" stroke-width="3.20" /><line x1="425.6" y1="642.0" x2="503.0" y2="668.0" stroke="#5a8bd8" stroke-width="3.20" /><line x1="425.6" y1="642.0" x2="563.0" y2="668.0" stroke="#5a8bd8" stroke-width="3.20" /><line x1="458.7" y1="642.0" x2="503.0" y2="668.0" stroke="#5a8bd8" stroke-width="3.20" /><line x1="458.7" y1="642.0" x2="563.0" y2="668.0" stroke="#5a8bd8" stroke-width="3.20" /><line x1="491.8" y1="642.0" x2="503.0" y2="668.0" stroke="#5a8bd8" stroke-width="3.20" /><line x1="491.8" y1="642.0" x2="563.0" y2="668.0" stroke="#5a8bd8" stroke-width="3.20" /><line x1="524.9" y1="642.0" x2="503.0" y2="668.0" stroke="#5a8bd8" stroke-width="3.20" /><line x1="524.9" y1="642.0" x2="563.0" y2="668.0" stroke="#5a8bd8" stroke-width="3.20" /><line x1="558.0" y1="642.0" x2="503.0" y2="668.0" stroke="#5a8bd8" stroke-width="3.20" /><line x1="558.0" y1="642.0" x2="563.0" y2="668.0" stroke="#5a8bd8" stroke-width="3.20" /><line x1="591.1" y1="642.0" x2="503.0" y2="668.0" stroke="#5a8bd8" stroke-width="3.20" /><line x1="591.1" y1="642.0" x2="563.0" y2="668.0" stroke="#5a8bd8" stroke-width="3.20" /><line x1="624.2" y1="642.0" x2="503.0" y2="668.0" stroke="#5a8bd8" stroke-width="3.20" /><line x1="624.2" y1="642.0" x2="563.0" y2="668.0" stroke="#5a8bd8" stroke-width="3.20" /><line x1="386.5" y1="640.0" x2="638.2" y2="638.0" stroke="#5a8bd8" stroke-width="4.00" /><polygon points="432.0,521.0 533.0,505.0 634.0,521.0 533.0,537.0" fill="#e3e6f4"  stroke="#e3e6f4" stroke-width="0.6" stroke-linejoin="round"/><polygon points="473.0,512.0 553.0,507.0 583.0,514.0 513.0,520.0" fill="#ffffff" opacity="0.7"/><polygon points="432.0,521.0 533.0,537.0 533.0,564.0 432.0,549.0" fill="#b9c1e6"  stroke="#b9c1e6" stroke-width="0.6" stroke-linejoin="round"/><polygon points="533.0,537.0 634.0,521.0 634.0,549.0 533.0,564.0" fill="#a2acdd"  stroke="#a2acdd" stroke-width="0.6" stroke-linejoin="round"/><polygon points="440.0,526.0 525.0,540.0 525.0,544.0 440.0,530.0" fill="#ffffff" opacity="0.8"/><polygon points="541.0,540.0 626.0,526.0 626.0,530.0 541.0,544.0" fill="#ffffff" opacity="0.7"/><polygon points="440.0,537.0 525.0,551.0 525.0,555.0 440.0,541.0" fill="#ffffff" opacity="0.8"/><polygon points="541.0,551.0 626.0,537.0 626.0,541.0 541.0,555.0" fill="#ffffff" opacity="0.7"/><line x1="476.0" y1="555.0" x2="400.0" y2="584.5" stroke="#111" stroke-width="3.20" stroke-linecap="round"/><line x1="476.0" y1="555.0" x2="433.1" y2="584.5" stroke="#111" stroke-width="3.20" stroke-linecap="round"/><line x1="476.0" y1="555.0" x2="466.2" y2="584.5" stroke="#111" stroke-width="3.20" stroke-linecap="round"/><line x1="476.0" y1="555.0" x2="499.3" y2="584.5" stroke="#111" stroke-width="3.20" stroke-linecap="round"/><line x1="476.0" y1="555.0" x2="532.4" y2="584.5" stroke="#111" stroke-width="3.20" stroke-linecap="round"/><line x1="476.0" y1="555.0" x2="565.5" y2="584.5" stroke="#111" stroke-width="3.20" stroke-linecap="round"/><line x1="476.0" y1="555.0" x2="598.6" y2="584.5" stroke="#111" stroke-width="3.20" stroke-linecap="round"/><line x1="476.0" y1="555.0" x2="631.7" y2="584.5" stroke="#111" stroke-width="3.20" stroke-linecap="round"/><line x1="578.0" y1="555.0" x2="400.0" y2="584.5" stroke="#111" stroke-width="3.20" stroke-linecap="round"/><line x1="578.0" y1="555.0" x2="433.1" y2="584.5" stroke="#111" stroke-width="3.20" stroke-linecap="round"/><line x1="578.0" y1="555.0" x2="466.2" y2="584.5" stroke="#111" stroke-width="3.20" stroke-linecap="round"/><line x1="578.0" y1="555.0" x2="499.3" y2="584.5" stroke="#111" stroke-width="3.20" stroke-linecap="round"/><line x1="578.0" y1="555.0" x2="532.4" y2="584.5" stroke="#111" stroke-width="3.20" stroke-linecap="round"/><line x1="578.0" y1="555.0" x2="565.5" y2="584.5" stroke="#111" stroke-width="3.20" stroke-linecap="round"/><line x1="578.0" y1="555.0" x2="598.6" y2="584.5" stroke="#111" stroke-width="3.20" stroke-linecap="round"/><line x1="578.0" y1="555.0" x2="631.7" y2="584.5" stroke="#111" stroke-width="3.20" stroke-linecap="round"/><line x1="507.0" y1="531.0" x2="547.0" y2="531.0" stroke="#111" stroke-width="3.00" /><line x1="507.0" y1="537.0" x2="547.0" y2="537.0" stroke="#111" stroke-width="3.00" /><ellipse cx="527.0" cy="535.0" rx="4" ry="13" fill="none" stroke="#111" stroke-width="2.8"/><polygon points="445.0,533.5 476.0,551.0 507.0,534.0 507.0,539.0 476.0,557.0 445.0,538.5" fill="#202f88"  stroke="#202f88" stroke-width="0.6" stroke-linejoin="round"/><polygon points="476.0,515.0 507.0,534.0 476.0,551.0 445.0,533.5" fill="#3447a8"  stroke="#3447a8" stroke-width="0.6" stroke-linejoin="round"/><line x1="468.1" y1="520.7" x2="486.1" y2="529.4" stroke="#fff" stroke-width="2.40" /><polygon points="489.7,531.1 483.7,532.2 486.8,525.7" fill="#fff"  stroke="#fff" stroke-width="0.6" stroke-linejoin="round"/><line x1="469.1" y1="527.8" x2="487.1" y2="536.5" stroke="#fff" stroke-width="2.40" /><polygon points="465.5,526.1 468.4,531.5 471.6,525.0" fill="#fff"  stroke="#fff" stroke-width="0.6" stroke-linejoin="round"/><line x1="462.9" y1="531.5" x2="480.9" y2="540.2" stroke="#fff" stroke-width="2.40" /><polygon points="484.5,541.9 478.4,543.0 481.6,536.5" fill="#fff"  stroke="#fff" stroke-width="0.6" stroke-linejoin="round"/><line x1="463.9" y1="538.6" x2="481.9" y2="547.3" stroke="#fff" stroke-width="2.40" /><polygon points="460.3,536.9 463.2,542.3 466.3,535.8" fill="#fff"  stroke="#fff" stroke-width="0.6" stroke-linejoin="round"/><polygon points="547.0,533.5 578.0,551.0 609.0,534.0 609.0,539.0 578.0,557.0 547.0,538.5" fill="#202f88"  stroke="#202f88" stroke-width="0.6" stroke-linejoin="round"/><polygon points="578.0,515.0 609.0,534.0 578.0,551.0 547.0,533.5" fill="#3447a8"  stroke="#3447a8" stroke-width="0.6" stroke-linejoin="round"/><line x1="570.1" y1="520.7" x2="588.1" y2="529.4" stroke="#fff" stroke-width="2.40" /><polygon points="591.7,531.1 585.7,532.2 588.8,525.7" fill="#fff"  stroke="#fff" stroke-width="0.6" stroke-linejoin="round"/><line x1="571.1" y1="527.8" x2="589.1" y2="536.5" stroke="#fff" stroke-width="2.40" /><polygon points="567.5,526.1 570.4,531.5 573.6,525.0" fill="#fff"  stroke="#fff" stroke-width="0.6" stroke-linejoin="round"/><line x1="564.9" y1="531.5" x2="582.9" y2="540.2" stroke="#fff" stroke-width="2.40" /><polygon points="586.5,541.9 580.4,543.0 583.6,536.5" fill="#fff"  stroke="#fff" stroke-width="0.6" stroke-linejoin="round"/><line x1="565.9" y1="538.6" x2="583.9" y2="547.3" stroke="#fff" stroke-width="2.40" /><polygon points="562.3,536.9 565.2,542.3 568.3,535.8" fill="#fff"  stroke="#fff" stroke-width="0.6" stroke-linejoin="round"/><polygon points="380.0,600.5 404.0,587.5 416.0,593.5 392.5,606.0" fill="#4053b8"  stroke="#4053b8" stroke-width="0.6" stroke-linejoin="round"/><polygon points="380.0,600.5 392.5,606.0 392.5,642.0 380.0,636.0" fill="#3446ad"  stroke="#3446ad" stroke-width="0.6" stroke-linejoin="round"/><polygon points="392.5,606.0 416.0,593.5 416.0,629.0 392.5,642.0" fill="#28359b"  stroke="#28359b" stroke-width="0.6" stroke-linejoin="round"/><polygon points="413.1,600.5 437.1,587.5 449.1,593.5 425.6,606.0" fill="#4053b8"  stroke="#4053b8" stroke-width="0.6" stroke-linejoin="round"/><polygon points="413.1,600.5 425.6,606.0 425.6,642.0 413.1,636.0" fill="#3446ad"  stroke="#3446ad" stroke-width="0.6" stroke-linejoin="round"/><polygon points="425.6,606.0 449.1,593.5 449.1,629.0 425.6,642.0" fill="#28359b"  stroke="#28359b" stroke-width="0.6" stroke-linejoin="round"/><polygon points="446.2,600.5 470.2,587.5 482.2,593.5 458.7,606.0" fill="#4053b8"  stroke="#4053b8" stroke-width="0.6" stroke-linejoin="round"/><polygon points="446.2,600.5 458.7,606.0 458.7,642.0 446.2,636.0" fill="#3446ad"  stroke="#3446ad" stroke-width="0.6" stroke-linejoin="round"/><polygon points="458.7,606.0 482.2,593.5 482.2,629.0 458.7,642.0" fill="#28359b"  stroke="#28359b" stroke-width="0.6" stroke-linejoin="round"/><polygon points="479.3,600.5 503.3,587.5 515.3,593.5 491.8,606.0" fill="#4053b8"  stroke="#4053b8" stroke-width="0.6" stroke-linejoin="round"/><polygon points="479.3,600.5 491.8,606.0 491.8,642.0 479.3,636.0" fill="#3446ad"  stroke="#3446ad" stroke-width="0.6" stroke-linejoin="round"/><polygon points="491.8,606.0 515.3,593.5 515.3,629.0 491.8,642.0" fill="#28359b"  stroke="#28359b" stroke-width="0.6" stroke-linejoin="round"/><polygon points="512.4,600.5 536.4,587.5 548.4,593.5 524.9,606.0" fill="#4053b8"  stroke="#4053b8" stroke-width="0.6" stroke-linejoin="round"/><polygon points="512.4,600.5 524.9,606.0 524.9,642.0 512.4,636.0" fill="#3446ad"  stroke="#3446ad" stroke-width="0.6" stroke-linejoin="round"/><polygon points="524.9,606.0 548.4,593.5 548.4,629.0 524.9,642.0" fill="#28359b"  stroke="#28359b" stroke-width="0.6" stroke-linejoin="round"/><polygon points="545.5,600.5 569.5,587.5 581.5,593.5 558.0,606.0" fill="#4053b8"  stroke="#4053b8" stroke-width="0.6" stroke-linejoin="round"/><polygon points="545.5,600.5 558.0,606.0 558.0,642.0 545.5,636.0" fill="#3446ad"  stroke="#3446ad" stroke-width="0.6" stroke-linejoin="round"/><polygon points="558.0,606.0 581.5,593.5 581.5,629.0 558.0,642.0" fill="#28359b"  stroke="#28359b" stroke-width="0.6" stroke-linejoin="round"/><polygon points="578.6,600.5 602.6,587.5 614.6,593.5 591.1,606.0" fill="#8eaedc"  stroke="#8eaedc" stroke-width="0.6" stroke-linejoin="round"/><polygon points="578.6,600.5 591.1,606.0 591.1,642.0 578.6,636.0" fill="#7c9fd3"  stroke="#7c9fd3" stroke-width="0.6" stroke-linejoin="round"/><polygon points="591.1,606.0 614.6,593.5 614.6,629.0 591.1,642.0" fill="#6a8dc8"  stroke="#6a8dc8" stroke-width="0.6" stroke-linejoin="round"/><polygon points="611.7,600.5 635.7,587.5 647.7,593.5 624.2,606.0" fill="#8eaedc"  stroke="#8eaedc" stroke-width="0.6" stroke-linejoin="round"/><polygon points="611.7,600.5 624.2,606.0 624.2,642.0 611.7,636.0" fill="#7c9fd3"  stroke="#7c9fd3" stroke-width="0.6" stroke-linejoin="round"/><polygon points="624.2,606.0 647.7,593.5 647.7,629.0 624.2,642.0" fill="#6a8dc8"  stroke="#6a8dc8" stroke-width="0.6" stroke-linejoin="round"/><line x1="741.5" y1="642.5" x2="832.0" y2="668.0" stroke="#5a8bd8" stroke-width="3.20" /><line x1="741.5" y1="642.5" x2="892.0" y2="668.0" stroke="#5a8bd8" stroke-width="3.20" /><line x1="775.1" y1="642.5" x2="832.0" y2="668.0" stroke="#5a8bd8" stroke-width="3.20" /><line x1="775.1" y1="642.5" x2="892.0" y2="668.0" stroke="#5a8bd8" stroke-width="3.20" /><line x1="808.7" y1="642.5" x2="832.0" y2="668.0" stroke="#5a8bd8" stroke-width="3.20" /><line x1="808.7" y1="642.5" x2="892.0" y2="668.0" stroke="#5a8bd8" stroke-width="3.20" /><line x1="842.3" y1="642.5" x2="832.0" y2="668.0" stroke="#5a8bd8" stroke-width="3.20" /><line x1="842.3" y1="642.5" x2="892.0" y2="668.0" stroke="#5a8bd8" stroke-width="3.20" /><line x1="875.9" y1="642.5" x2="832.0" y2="668.0" stroke="#5a8bd8" stroke-width="3.20" /><line x1="875.9" y1="642.5" x2="892.0" y2="668.0" stroke="#5a8bd8" stroke-width="3.20" /><line x1="909.5" y1="642.5" x2="832.0" y2="668.0" stroke="#5a8bd8" stroke-width="3.20" /><line x1="909.5" y1="642.5" x2="892.0" y2="668.0" stroke="#5a8bd8" stroke-width="3.20" /><line x1="943.1" y1="642.5" x2="832.0" y2="668.0" stroke="#5a8bd8" stroke-width="3.20" /><line x1="943.1" y1="642.5" x2="892.0" y2="668.0" stroke="#5a8bd8" stroke-width="3.20" /><line x1="976.7" y1="642.5" x2="832.0" y2="668.0" stroke="#5a8bd8" stroke-width="3.20" /><line x1="976.7" y1="642.5" x2="892.0" y2="668.0" stroke="#5a8bd8" stroke-width="3.20" /><line x1="735.5" y1="640.5" x2="990.7" y2="638.5" stroke="#5a8bd8" stroke-width="4.00" /><polygon points="761.0,521.0 862.0,505.0 963.0,521.0 862.0,537.0" fill="#e3e6f4"  stroke="#e3e6f4" stroke-width="0.6" stroke-linejoin="round"/><polygon points="802.0,512.0 882.0,507.0 912.0,514.0 842.0,520.0" fill="#ffffff" opacity="0.7"/><polygon points="761.0,521.0 862.0,537.0 862.0,564.0 761.0,549.0" fill="#b9c1e6"  stroke="#b9c1e6" stroke-width="0.6" stroke-linejoin="round"/><polygon points="862.0,537.0 963.0,521.0 963.0,549.0 862.0,564.0" fill="#a2acdd"  stroke="#a2acdd" stroke-width="0.6" stroke-linejoin="round"/><polygon points="769.0,526.0 854.0,540.0 854.0,544.0 769.0,530.0" fill="#ffffff" opacity="0.8"/><polygon points="870.0,540.0 955.0,526.0 955.0,530.0 870.0,544.0" fill="#ffffff" opacity="0.7"/><polygon points="769.0,537.0 854.0,551.0 854.0,555.0 769.0,541.0" fill="#ffffff" opacity="0.8"/><polygon points="870.0,551.0 955.0,537.0 955.0,541.0 870.0,555.0" fill="#ffffff" opacity="0.7"/><line x1="809.0" y1="554.0" x2="749.0" y2="587.0" stroke="#111" stroke-width="3.20" stroke-linecap="round"/><line x1="809.0" y1="554.0" x2="782.6" y2="587.0" stroke="#111" stroke-width="3.20" stroke-linecap="round"/><line x1="809.0" y1="554.0" x2="816.2" y2="587.0" stroke="#111" stroke-width="3.20" stroke-linecap="round"/><line x1="809.0" y1="554.0" x2="849.8" y2="587.0" stroke="#111" stroke-width="3.20" stroke-linecap="round"/><line x1="809.0" y1="554.0" x2="883.4" y2="587.0" stroke="#111" stroke-width="3.20" stroke-linecap="round"/><line x1="809.0" y1="554.0" x2="917.0" y2="587.0" stroke="#111" stroke-width="3.20" stroke-linecap="round"/><line x1="809.0" y1="554.0" x2="950.6" y2="587.0" stroke="#111" stroke-width="3.20" stroke-linecap="round"/><line x1="809.0" y1="554.0" x2="984.2" y2="587.0" stroke="#111" stroke-width="3.20" stroke-linecap="round"/><line x1="913.0" y1="554.0" x2="749.0" y2="587.0" stroke="#111" stroke-width="3.20" stroke-linecap="round"/><line x1="913.0" y1="554.0" x2="782.6" y2="587.0" stroke="#111" stroke-width="3.20" stroke-linecap="round"/><line x1="913.0" y1="554.0" x2="816.2" y2="587.0" stroke="#111" stroke-width="3.20" stroke-linecap="round"/><line x1="913.0" y1="554.0" x2="849.8" y2="587.0" stroke="#111" stroke-width="3.20" stroke-linecap="round"/><line x1="913.0" y1="554.0" x2="883.4" y2="587.0" stroke="#111" stroke-width="3.20" stroke-linecap="round"/><line x1="913.0" y1="554.0" x2="917.0" y2="587.0" stroke="#111" stroke-width="3.20" stroke-linecap="round"/><line x1="913.0" y1="554.0" x2="950.6" y2="587.0" stroke="#111" stroke-width="3.20" stroke-linecap="round"/><line x1="913.0" y1="554.0" x2="984.2" y2="587.0" stroke="#111" stroke-width="3.20" stroke-linecap="round"/><line x1="840.0" y1="530.0" x2="882.0" y2="530.0" stroke="#111" stroke-width="3.00" /><line x1="840.0" y1="536.0" x2="882.0" y2="536.0" stroke="#111" stroke-width="3.00" /><ellipse cx="861.0" cy="534.0" rx="4" ry="13" fill="none" stroke="#111" stroke-width="2.8"/><polygon points="778.0,532.5 809.0,550.0 840.0,533.0 840.0,538.0 809.0,556.0 778.0,537.5" fill="#202f88"  stroke="#202f88" stroke-width="0.6" stroke-linejoin="round"/><polygon points="809.0,514.0 840.0,533.0 809.0,550.0 778.0,532.5" fill="#3447a8"  stroke="#3447a8" stroke-width="0.6" stroke-linejoin="round"/><line x1="801.1" y1="519.7" x2="819.1" y2="528.4" stroke="#fff" stroke-width="2.40" /><polygon points="822.7,530.1 816.7,531.2 819.8,524.7" fill="#fff"  stroke="#fff" stroke-width="0.6" stroke-linejoin="round"/><line x1="802.1" y1="526.8" x2="820.1" y2="535.5" stroke="#fff" stroke-width="2.40" /><polygon points="798.5,525.1 801.4,530.5 804.6,524.0" fill="#fff"  stroke="#fff" stroke-width="0.6" stroke-linejoin="round"/><line x1="795.9" y1="530.5" x2="813.9" y2="539.2" stroke="#fff" stroke-width="2.40" /><polygon points="817.5,540.9 811.4,542.0 814.6,535.5" fill="#fff"  stroke="#fff" stroke-width="0.6" stroke-linejoin="round"/><line x1="796.9" y1="537.6" x2="814.9" y2="546.3" stroke="#fff" stroke-width="2.40" /><polygon points="793.3,535.9 796.2,541.3 799.3,534.8" fill="#fff"  stroke="#fff" stroke-width="0.6" stroke-linejoin="round"/><polygon points="882.0,532.5 913.0,550.0 944.0,533.0 944.0,538.0 913.0,556.0 882.0,537.5" fill="#202f88"  stroke="#202f88" stroke-width="0.6" stroke-linejoin="round"/><polygon points="913.0,514.0 944.0,533.0 913.0,550.0 882.0,532.5" fill="#3447a8"  stroke="#3447a8" stroke-width="0.6" stroke-linejoin="round"/><line x1="905.1" y1="519.7" x2="923.1" y2="528.4" stroke="#fff" stroke-width="2.40" /><polygon points="926.7,530.1 920.7,531.2 923.8,524.7" fill="#fff"  stroke="#fff" stroke-width="0.6" stroke-linejoin="round"/><line x1="906.1" y1="526.8" x2="924.1" y2="535.5" stroke="#fff" stroke-width="2.40" /><polygon points="902.5,525.1 905.4,530.5 908.6,524.0" fill="#fff"  stroke="#fff" stroke-width="0.6" stroke-linejoin="round"/><line x1="899.9" y1="530.5" x2="917.9" y2="539.2" stroke="#fff" stroke-width="2.40" /><polygon points="921.5,540.9 915.4,542.0 918.6,535.5" fill="#fff"  stroke="#fff" stroke-width="0.6" stroke-linejoin="round"/><line x1="900.9" y1="537.6" x2="918.9" y2="546.3" stroke="#fff" stroke-width="2.40" /><polygon points="897.3,535.9 900.2,541.3 903.3,534.8" fill="#fff"  stroke="#fff" stroke-width="0.6" stroke-linejoin="round"/><polygon points="729.0,603.0 753.0,590.0 765.0,596.0 741.5,608.5" fill="#4053b8"  stroke="#4053b8" stroke-width="0.6" stroke-linejoin="round"/><polygon points="729.0,603.0 741.5,608.5 741.5,642.5 729.0,636.5" fill="#3446ad"  stroke="#3446ad" stroke-width="0.6" stroke-linejoin="round"/><polygon points="741.5,608.5 765.0,596.0 765.0,629.5 741.5,642.5" fill="#28359b"  stroke="#28359b" stroke-width="0.6" stroke-linejoin="round"/><polygon points="762.6,603.0 786.6,590.0 798.6,596.0 775.1,608.5" fill="#4053b8"  stroke="#4053b8" stroke-width="0.6" stroke-linejoin="round"/><polygon points="762.6,603.0 775.1,608.5 775.1,642.5 762.6,636.5" fill="#3446ad"  stroke="#3446ad" stroke-width="0.6" stroke-linejoin="round"/><polygon points="775.1,608.5 798.6,596.0 798.6,629.5 775.1,642.5" fill="#28359b"  stroke="#28359b" stroke-width="0.6" stroke-linejoin="round"/><polygon points="796.2,603.0 820.2,590.0 832.2,596.0 808.7,608.5" fill="#4053b8"  stroke="#4053b8" stroke-width="0.6" stroke-linejoin="round"/><polygon points="796.2,603.0 808.7,608.5 808.7,642.5 796.2,636.5" fill="#3446ad"  stroke="#3446ad" stroke-width="0.6" stroke-linejoin="round"/><polygon points="808.7,608.5 832.2,596.0 832.2,629.5 808.7,642.5" fill="#28359b"  stroke="#28359b" stroke-width="0.6" stroke-linejoin="round"/><polygon points="829.8,603.0 853.8,590.0 865.8,596.0 842.3,608.5" fill="#4053b8"  stroke="#4053b8" stroke-width="0.6" stroke-linejoin="round"/><polygon points="829.8,603.0 842.3,608.5 842.3,642.5 829.8,636.5" fill="#3446ad"  stroke="#3446ad" stroke-width="0.6" stroke-linejoin="round"/><polygon points="842.3,608.5 865.8,596.0 865.8,629.5 842.3,642.5" fill="#28359b"  stroke="#28359b" stroke-width="0.6" stroke-linejoin="round"/><polygon points="863.4,603.0 887.4,590.0 899.4,596.0 875.9,608.5" fill="#4053b8"  stroke="#4053b8" stroke-width="0.6" stroke-linejoin="round"/><polygon points="863.4,603.0 875.9,608.5 875.9,642.5 863.4,636.5" fill="#3446ad"  stroke="#3446ad" stroke-width="0.6" stroke-linejoin="round"/><polygon points="875.9,608.5 899.4,596.0 899.4,629.5 875.9,642.5" fill="#28359b"  stroke="#28359b" stroke-width="0.6" stroke-linejoin="round"/><polygon points="897.0,603.0 921.0,590.0 933.0,596.0 909.5,608.5" fill="#4053b8"  stroke="#4053b8" stroke-width="0.6" stroke-linejoin="round"/><polygon points="897.0,603.0 909.5,608.5 909.5,642.5 897.0,636.5" fill="#3446ad"  stroke="#3446ad" stroke-width="0.6" stroke-linejoin="round"/><polygon points="909.5,608.5 933.0,596.0 933.0,629.5 909.5,642.5" fill="#28359b"  stroke="#28359b" stroke-width="0.6" stroke-linejoin="round"/><polygon points="930.6,603.0 954.6,590.0 966.6,596.0 943.1,608.5" fill="#8eaedc"  stroke="#8eaedc" stroke-width="0.6" stroke-linejoin="round"/><polygon points="930.6,603.0 943.1,608.5 943.1,642.5 930.6,636.5" fill="#7c9fd3"  stroke="#7c9fd3" stroke-width="0.6" stroke-linejoin="round"/><polygon points="943.1,608.5 966.6,596.0 966.6,629.5 943.1,642.5" fill="#6a8dc8"  stroke="#6a8dc8" stroke-width="0.6" stroke-linejoin="round"/><polygon points="964.2,603.0 988.2,590.0 1000.2,596.0 976.7,608.5" fill="#8eaedc"  stroke="#8eaedc" stroke-width="0.6" stroke-linejoin="round"/><polygon points="964.2,603.0 976.7,608.5 976.7,642.5 964.2,636.5" fill="#7c9fd3"  stroke="#7c9fd3" stroke-width="0.6" stroke-linejoin="round"/><polygon points="976.7,608.5 1000.2,596.0 1000.2,629.5 976.7,642.5" fill="#6a8dc8"  stroke="#6a8dc8" stroke-width="0.6" stroke-linejoin="round"/><circle cx="666.0" cy="593" r="1.9" fill="#111"/><circle cx="673.6" cy="593" r="1.9" fill="#111"/><circle cx="681.2" cy="593" r="1.9" fill="#111"/><circle cx="688.8" cy="593" r="1.9" fill="#111"/><circle cx="696.4" cy="593" r="1.9" fill="#111"/><circle cx="704.0" cy="593" r="1.9" fill="#111"/><line x1="824.0" y1="90.7" x2="878.6" y2="90.7" stroke="#4a80b0" stroke-width="2.80" /><line x1="824.0" y1="129.0" x2="878.6" y2="129.0" stroke="#111" stroke-width="3.20" /><line x1="824.0" y1="177.0" x2="878.6" y2="177.0" stroke="#df9f55" stroke-width="3.00" /><line x1="822.5" y1="225.5" x2="879.5" y2="225.5" stroke="#d99270" stroke-width="10.30" /><line x1="822.5" y1="225.5" x2="879.5" y2="225.5" stroke="#fac79b" stroke-width="6.30" /><line x1="820.0" y1="270.8" x2="881.6" y2="270.8" stroke="#111" stroke-width="3.00" /><line x1="820.0" y1="279.5" x2="881.6" y2="279.5" stroke="#111" stroke-width="3.00" /><ellipse cx="850" cy="275" rx="4.5" ry="13.5" fill="none" stroke="#111" stroke-width="2.6"/></svg>
<div class="t" style="left:93.4px;top:87.4px;font-size:25.45px;transform:scale(1.000,1.233)">管理区域</div><div class="t" style="left:16.8px;top:206.3px;font-size:25.45px;transform:scale(1.000,1.160)">汇聚节点</div><div class="t" style="left:21.2px;top:330.3px;font-size:24.72px;transform:scale(1.000,1.164)">自助门户</div><div class="t" style="left:491.6px;top:311.2px;font-size:24.64px;transform:scale(1.000,1.196)">核心交换区</div><div class="t" style="left:874.0px;top:24.3px;font-size:21.98px;transform:scale(1.000,1.219)">图例</div><div class="t" style="left:905.8px;top:82.7px;font-size:21.65px;transform:scale(1.000,1.171)">FC 存储网</div><div class="t" style="left:900.5px;top:127.8px;font-size:22.10px;transform:scale(1.000,1.160)">千兆以太网</div><div class="t" style="left:900.3px;top:173.4px;font-size:21.91px;transform:scale(1.000,1.167)">万兆以太网</div><div class="t" style="left:912.0px;top:219.2px;font-size:21.60px;transform:scale(1.000,1.171)">万兆汇聚</div><div class="t" style="left:910.8px;top:264.1px;font-size:22.20px;transform:scale(1.000,1.160)">横向整合</div><div class="t" style="left:19.8px;top:512.6px;font-size:22.00px;transform:scale(1.000,1.150)">业</div><div class="t" style="left:19.8px;top:545.0px;font-size:22.00px;transform:scale(1.000,1.150)">务</div><div class="t" style="left:19.8px;top:578.5px;font-size:22.00px;transform:scale(1.000,1.150)">区</div><div class="t" style="left:19.8px;top:610.5px;font-size:22.00px;transform:scale(1.000,1.150)">域</div><div class="t" style="left:23.4px;top:642.2px;font-size:21.00px;transform:scale(1.000,1.200)">1</div><div class="t" style="left:343.1px;top:512.6px;font-size:22.00px;transform:scale(1.000,1.150)">业</div><div class="t" style="left:343.1px;top:545.0px;font-size:22.00px;transform:scale(1.000,1.150)">务</div><div class="t" style="left:343.1px;top:578.5px;font-size:22.00px;transform:scale(1.000,1.150)">区</div><div class="t" style="left:343.1px;top:610.5px;font-size:22.00px;transform:scale(1.000,1.150)">域</div><div class="t" style="left:346.7px;top:642.2px;font-size:21.00px;transform:scale(1.000,1.200)">2</div><div class="t" style="left:1008.9px;top:512.6px;font-size:22.00px;transform:scale(1.000,1.150)">业</div><div class="t" style="left:1008.9px;top:545.0px;font-size:22.00px;transform:scale(1.000,1.150)">务</div><div class="t" style="left:1008.9px;top:578.5px;font-size:22.00px;transform:scale(1.000,1.150)">区</div><div class="t" style="left:1008.9px;top:610.5px;font-size:22.00px;transform:scale(1.000,1.150)">域</div><div class="t" style="left:1011.7px;top:642.2px;font-size:21.00px;transform:scale(1.000,1.200)">N</div>
</div></body></html>
